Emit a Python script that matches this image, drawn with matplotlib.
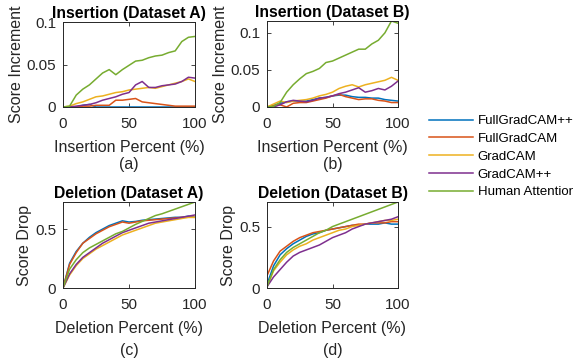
import matplotlib
matplotlib.use("Agg")
import matplotlib.pyplot as plt

plt.rcParams['font.family'] = ['Liberation Sans', 'DejaVu Sans']

pct = [0, 5, 10, 15, 20, 25, 30, 35, 40, 45, 50, 55, 60, 65, 70, 75, 80, 85, 90, 95, 100]
methods = ['FullGradCAM++', 'FullGradCAM', 'GradCAM', 'GradCAM++', 'Human Attention']
colors = ['#0072BD', '#D95319', '#EDB120', '#7E2F8E', '#77AC30']

# (a) insertion, dataset A
ins_a_fgpp = [0, 0, 0, 0.002, 0.003, 0, 0, 0, 0, 0, 0, 0, 0, 0, 0, 0, 0, 0, 0, 0, 0]
ins_a_fg = [0, 0, 0, 0.001, 0.001, 0.002, 0.002, 0.002, 0.008, 0.008, 0.009, 0.010, 0.006, 0.005, 0.004, 0.003, 0.002, 0.001, 0.001, 0.001, 0.001]
ins_a_gc = [0, 0.001, 0.004, 0.006, 0.009, 0.012, 0.013, 0.015, 0.017, 0.018, 0.020, 0.021, 0.022, 0.023, 0.022, 0.024, 0.026, 0.028, 0.030, 0.033, 0.030]
ins_a_gcpp = [0, 0, 0.001, 0.002, 0.003, 0.005, 0.008, 0.010, 0.012, 0.015, 0.017, 0.026, 0.030, 0.023, 0.023, 0.025, 0.026, 0.027, 0.030, 0.035, 0.034]
ins_a_human = [0, 0.001, 0.014, 0.021, 0.026, 0.033, 0.040, 0.044, 0.038, 0.044, 0.049, 0.054, 0.055, 0.058, 0.060, 0.061, 0.064, 0.066, 0.077, 0.082, 0.083]

# (b) insertion, dataset B
ins_b_fgpp = [0, 0.002, 0.005, 0.007, 0.008, 0.008, 0.008, 0.010, 0.012, 0.013, 0.015, 0.016, 0.016, 0.014, 0.013, 0.013, 0.012, 0.012, 0.010, 0.009, 0.008]
ins_b_fg = [0, 0.002, 0.003, 0.000, 0.005, 0.006, 0.006, 0.008, 0.010, 0.012, 0.015, 0.017, 0.014, 0.012, 0.010, 0.011, 0.011, 0.009, 0.008, 0.006, 0.006]
ins_b_gc = [0, 0.004, 0.008, 0.006, 0.008, 0.009, 0.010, 0.012, 0.015, 0.017, 0.020, 0.025, 0.028, 0.030, 0.027, 0.030, 0.032, 0.034, 0.036, 0.040, 0.036]
ins_b_gcpp = [0, 0, 0.003, 0.007, 0.009, 0.008, 0.007, 0.009, 0.012, 0.013, 0.015, 0.018, 0.020, 0.023, 0.026, 0.020, 0.022, 0.025, 0.023, 0.028, 0.035]
ins_b_human = [0, 0.001, 0.006, 0.020, 0.030, 0.038, 0.045, 0.048, 0.052, 0.060, 0.062, 0.066, 0.070, 0.074, 0.078, 0.078, 0.085, 0.090, 0.100, 0.116, 0.113]

# (c) deletion, dataset A
del_a_fgpp = [0, 0.21, 0.31, 0.38, 0.43, 0.47, 0.50, 0.53, 0.55, 0.57, 0.56, 0.565, 0.575, 0.58, 0.585, 0.59, 0.595, 0.60, 0.60, 0.61, 0.60]
del_a_fg = [0, 0.20, 0.30, 0.38, 0.42, 0.46, 0.49, 0.52, 0.54, 0.56, 0.55, 0.56, 0.57, 0.575, 0.58, 0.585, 0.59, 0.595, 0.60, 0.60, 0.60]
del_a_gc = [0, 0.11, 0.19, 0.25, 0.29, 0.33, 0.36, 0.39, 0.42, 0.45, 0.47, 0.49, 0.51, 0.53, 0.55, 0.56, 0.57, 0.58, 0.59, 0.60, 0.60]
del_a_gcpp = [0, 0.12, 0.20, 0.26, 0.30, 0.34, 0.38, 0.41, 0.44, 0.47, 0.49, 0.51, 0.53, 0.55, 0.56, 0.57, 0.58, 0.59, 0.60, 0.61, 0.62]
del_a_human = [0, 0.16, 0.24, 0.30, 0.34, 0.37, 0.40, 0.43, 0.46, 0.48, 0.51, 0.54, 0.565, 0.59, 0.615, 0.63, 0.65, 0.67, 0.69, 0.71, 0.73]

# (d) deletion, dataset B
del_b_fgpp = [0.03, 0.18, 0.27, 0.32, 0.36, 0.39, 0.42, 0.44, 0.45, 0.47, 0.48, 0.49, 0.50, 0.51, 0.51, 0.52, 0.52, 0.52, 0.53, 0.52, 0.52]
del_b_fg = [0.10, 0.22, 0.30, 0.34, 0.38, 0.41, 0.43, 0.45, 0.46, 0.47, 0.48, 0.49, 0.50, 0.51, 0.52, 0.52, 0.53, 0.53, 0.53, 0.54, 0.54]
del_b_gc = [0.01, 0.14, 0.21, 0.27, 0.31, 0.34, 0.36, 0.39, 0.41, 0.43, 0.45, 0.47, 0.48, 0.50, 0.51, 0.52, 0.53, 0.54, 0.55, 0.55, 0.56]
del_b_gcpp = [0.01, 0.09, 0.15, 0.21, 0.26, 0.29, 0.31, 0.33, 0.35, 0.38, 0.41, 0.43, 0.45, 0.48, 0.50, 0.52, 0.53, 0.54, 0.55, 0.56, 0.58]
del_b_human = [0.01, 0.15, 0.23, 0.29, 0.33, 0.36, 0.39, 0.42, 0.45, 0.47, 0.50, 0.52, 0.54, 0.56, 0.58, 0.60, 0.62, 0.64, 0.66, 0.68, 0.70]

panels = [
    ([ins_a_fgpp, ins_a_fg, ins_a_gc, ins_a_gcpp, ins_a_human], 'Insertion (Dataset A)', 'Score Increment', 'Insertion Percent (%)', '(a)', [0, 0.05, 0.1], ['0', '0.05', '0.1'], 0.1),
    ([ins_b_fgpp, ins_b_fg, ins_b_gc, ins_b_gcpp, ins_b_human], 'Insertion (Dataset B)', 'Score Increment', 'Insertion Percent (%)', '(b)', [0, 0.05, 0.1], ['0', '0.05', '0.1'], None),
    ([del_a_fgpp, del_a_fg, del_a_gc, del_a_gcpp, del_a_human], 'Deletion (Dataset A)', 'Score Drop', 'Deletion Percent (%)', '(c)', [0, 0.5], ['0', '0.5'], None),
    ([del_b_fgpp, del_b_fg, del_b_gc, del_b_gcpp, del_b_human], 'Deletion (Dataset B)', 'Score Drop', 'Deletion Percent (%)', '(d)', [0, 0.5], ['0', '0.5'], None),
]

W, H = 573, 362
fig = plt.figure(figsize=(W / 100, H / 100), dpi=100)
# axes boxes in pixels (left, top, width, height) and caption offset below the box
boxes = [(63, 22, 132, 85, 58), (267, 21, 131, 86, 58), (63, 202, 132, 86, 62), (267, 202, 131, 86, 62)]

handles = []
for (series, title, ylab, xlab, cap, yt, ytl, ytop), (bx, by, bw, bh, cap_off) in zip(panels, boxes):
    ax = fig.add_axes([bx / W, 1 - (by + bh) / H, bw / W, bh / H])
    hs = []
    for s, c in zip(series, colors):
        h, = ax.plot(pct, s, color=c, lw=1.1)
        hs.append(h)
    handles = hs
    ax.set_xlim(0, 100)
    if ytop is None:
        ytop = max(max(s) for s in series)
    ax.set_ylim(0, ytop)
    ax.set_xticks([0, 50, 100])
    ax.set_yticks(yt)
    ax.set_yticklabels(ytl)
    ax.tick_params(direction='in', length=3, width=0.6, colors='#262626', labelsize=11,
                   top=True, right=True)
    ax.tick_params(axis='x', pad=7.5)
    ax.tick_params(axis='y', pad=5)
    for sp in ax.spines.values():
        sp.set_color('#262626')
        sp.set_linewidth(0.7)
    ax.set_title(title, fontsize=11.3, fontweight='bold', pad=3, color='black')
    ax.set_ylabel(ylab, fontsize=11.5, color='#262626', labelpad=2)
    ax.set_xlabel(xlab, fontsize=11.5, color='#262626', labelpad=6.5)
    fig.text((bx + bw / 2) / W, 1 - (by + bh + cap_off) / H, cap, fontsize=11.5, color='#262626',
             ha='center', va='center')

fig.legend(handles, methods, loc='upper left', bbox_to_anchor=(429 / W, 1 - 115 / H),
           frameon=False, fontsize=9.5, handlelength=3.3, handletextpad=0.4,
           labelspacing=0.42, borderaxespad=0, borderpad=0)

fig.savefig('out.png', dpi=100)
